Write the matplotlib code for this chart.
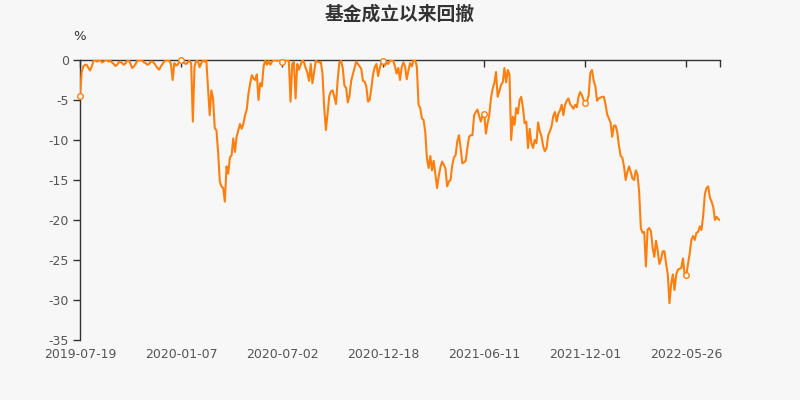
import matplotlib
matplotlib.use('Agg')
import matplotlib.pyplot as plt
import numpy as np

# ---- data (drawdown in %) ----
tick_labels = ['2019-07-19', '2020-01-07', '2020-07-02', '2020-12-18',
               '2021-06-11', '2021-12-01', '2022-05-26']

drawdown = [
    -4.5, -1.5, -0.8, -0.6, -0.6, -1.0, -1.3, -0.8, -0.1, 0.0,
    -0.2, -0.1, 0.0, -0.3, -0.2, 0.0, 0.0, -0.2, -0.1, -0.3,
    -0.5, -0.75, -0.6, -0.3, -0.2, -0.4, -0.6, -0.4, -0.1, 0.0,
    -0.5, -1.0, -0.8, -0.5, -0.1, 0.0, 0.0, -0.1, -0.3, -0.4,
    -0.6, -0.5, -0.2, -0.2, -0.4, -0.7, -1.0, -1.2, -0.8, -0.5,
    -0.2, 0.0, 0.0, -0.1, -0.5, -2.5, -0.4, -0.7, -0.6, -0.1,
    0.0, -0.3, -0.4, -0.5, -0.3, -0.1, -0.4, -7.7, -0.8, -0.1,
    -0.1, -0.9, -0.4, 0.0, -0.2, 0.0, -3.5, -6.9, -3.8, -4.8,
    -8.5, -8.8, -11.5, -15.2, -15.8, -16.0, -17.7, -13.3, -14.2, -12.2,
    -11.9, -9.8, -11.5, -9.6, -8.75, -8.0, -8.6, -8.0, -6.9, -6.2,
    -4.2, -3.0, -1.9, -2.3, -2.5, -1.8, -5.0, -2.9, -3.3, -0.8,
    0.0, -0.6, -0.1, -0.6, -0.2, 0.0, 0.0, -0.1, 0.0, 0.0,
    -0.2, 0.0, 0.0, 0.0, -0.1, -5.2, -0.5, -0.2, -4.8, -0.5,
    -1.2, -0.6, 0.0, -0.3, -1.0, -1.6, -2.6, -0.5, -2.9, -1.5,
    -0.1, -0.2, -0.3, -0.2, -1.8, -6.0, -8.75, -6.7, -4.5, -3.9,
    -3.8, -4.6, -5.5, -2.5, -0.3, -0.1, -1.0, -3.2, -3.5, -5.3,
    -4.5, -2.6, -1.8, -1.0, -0.2, -0.5, -0.8, -1.1, -2.6, -2.7,
    -3.3, -5.2, -5.0, -3.5, -1.8, -0.9, -0.5, -2.0, -1.0, -0.3,
    -0.1, -0.7, -0.3, -0.5, -0.1, 0.0, -0.1, -0.8, -1.7, -1.0,
    -2.5, -0.9, -0.3, -0.8, -2.4, -1.3, -0.4, -0.8, 0.0, 0.0,
    -0.8, -5.6, -6.0, -7.3, -7.5, -9.0, -12.3, -13.5, -12.0, -13.8,
    -12.6, -14.3, -16.0, -14.5, -13.4, -12.7, -13.1, -13.6, -15.8, -15.2,
    -15.0, -13.2, -12.2, -11.9, -10.2, -9.4, -11.0, -12.9, -12.8, -12.6,
    -11.0, -9.6, -9.4, -9.4, -6.9, -6.5, -6.2, -7.0, -7.7, -6.9,
    -6.7, -9.2, -7.9, -6.9, -4.8, -3.6, -2.9, -1.5, -4.6, -3.9,
    -3.1, -2.8, -1.0, -2.8, -1.25, -1.8, -10.0, -7.1, -8.1, -6.0,
    -6.7, -5.0, -4.6, -6.0, -7.9, -7.7, -11.0, -8.6, -10.4, -11.0,
    -10.0, -10.4, -7.8, -8.9, -9.5, -10.8, -11.4, -11.0, -9.4, -8.9,
    -8.3, -7.0, -6.5, -7.7, -6.7, -6.3, -5.6, -6.9, -5.6, -5.1,
    -4.8, -5.5, -5.8, -6.1, -5.6, -5.9, -4.6, -4.0, -4.4, -5.0,
    -5.4, -5.2, -4.4, -1.6, -1.25, -2.6, -3.3, -5.1, -4.8, -4.7,
    -4.6, -4.6, -5.5, -6.8, -7.3, -7.8, -9.6, -8.2, -8.2, -9.0,
    -10.7, -12.0, -12.2, -13.3, -15.0, -14.0, -13.3, -14.0, -14.8, -15.0,
    -13.8, -14.3, -16.5, -21.0, -21.6, -21.5, -25.8, -21.2, -21.0, -21.4,
    -23.5, -24.6, -22.6, -23.8, -25.5, -24.9, -23.9, -23.9, -25.5, -26.8,
    -30.4, -28.0, -26.8, -28.75, -26.8, -26.2, -26.1, -26.0, -24.8, -26.8,
    -26.9, -25.5, -24.2, -22.5, -22.0, -22.5, -21.6, -21.5, -20.8, -21.25,
    -19.5, -16.8, -16.0, -15.8, -17.2, -17.7, -18.4, -20.0, -19.6, -19.9,
    -20.0,
]
label_every = 60

# ---- style ----
bg = '#f7f7f7'
line_color = '#ff7f0e'
axis_color = '#333333'
text_color = '#555555'

dd = np.array(drawdown)
n = len(dd)
x = np.arange(n)
tick_idx = list(range(0, label_every * len(tick_labels), label_every))

fig = plt.figure(figsize=(8, 4), dpi=100, facecolor=bg)
ax = fig.add_axes([0.1, 0.15, 0.8, 0.70])
ax.set_facecolor(bg)

ax.plot(x, dd, color=line_color, lw=1.5, solid_joinstyle='round', zorder=3)
ax.plot(x[tick_idx], dd[tick_idx], 'o', mfc='white', mec=line_color,
        ms=4, mew=1, zorder=4, clip_on=False)

ax.set_xlim(0, n - 1)
ax.set_ylim(-35, 0)

ax.set_yticks(np.arange(-35, 1, 5))
ax.set_yticklabels([str(v) for v in range(-35, 1, 5)])
ax.set_xticks(tick_idx + [n - 1])
ax.set_xticklabels(tick_labels + [''])

for s in ['right', 'bottom']:
    ax.spines[s].set_visible(False)
for s in ['top', 'left']:
    ax.spines[s].set_color(axis_color)
    ax.spines[s].set_linewidth(1)

ax.tick_params(axis='x', bottom=False, top=True, labelbottom=True, labeltop=False,
               direction='in', length=5, width=1, color=axis_color,
               labelcolor=text_color, labelsize=9, pad=6)
ax.tick_params(axis='y', direction='out', length=5, width=1, color=axis_color,
               labelcolor=text_color, labelsize=9, pad=3)

fig.text(0.5, 1 - 14 / 400, '基金成立以来回撤', ha='center', va='center',
         fontsize=13.5, fontweight='bold', color='#333333',
         family=['Noto Sans CJK SC', 'DejaVu Sans'])
fig.text(80 / 800, 1 - 37 / 400, '%', ha='center', va='center',
         fontsize=9.5, color='#333333')

fig.savefig('out.png', dpi=100, facecolor=bg)
